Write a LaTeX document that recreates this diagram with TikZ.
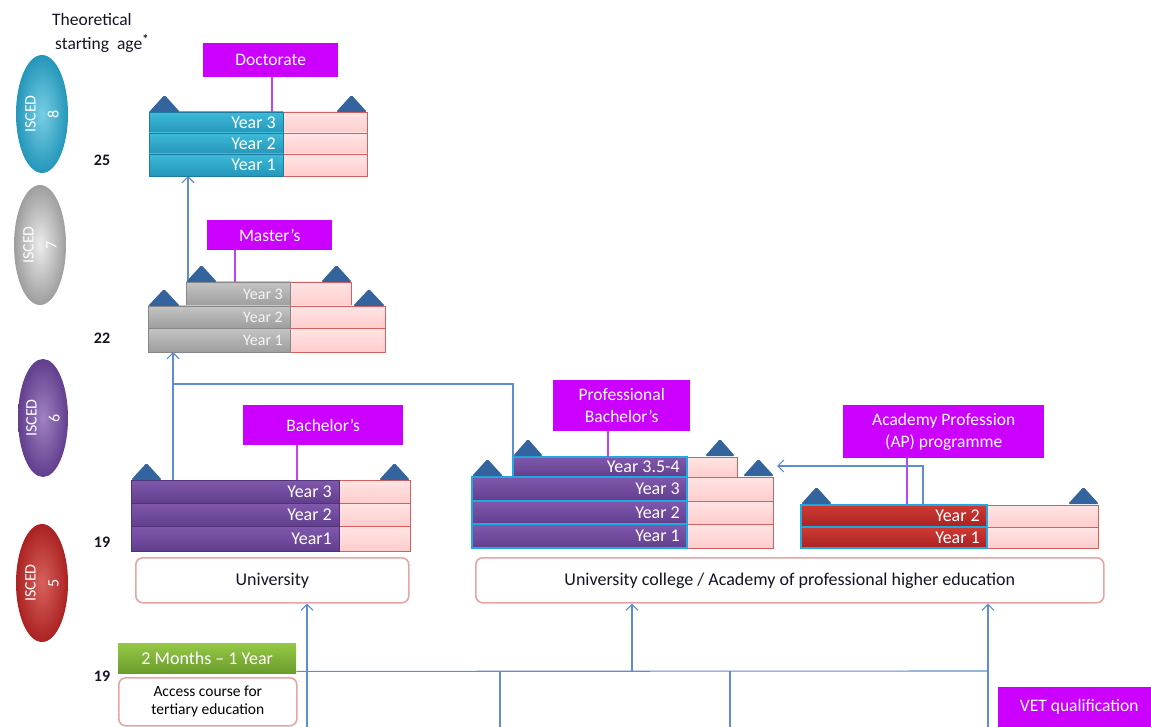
\documentclass[tikz,border=0pt]{standalone}
\usepackage{fontspec}
\setmainfont{Carlito}
\usetikzlibrary{shapes.geometric,arrows.meta,backgrounds}
\definecolor{mag}{RGB}{204,0,255}
\definecolor{magline}{RGB}{190,70,240}
\definecolor{pinkf}{RGB}{255,205,205}
\definecolor{pinkt}{RGB}{255,228,228}
\definecolor{pinkd}{RGB}{212,95,95}
\definecolor{cyant}{RGB}{62,186,216}
\definecolor{cyanb}{RGB}{36,150,186}
\definecolor{cyand}{RGB}{28,125,160}
\definecolor{grayt}{RGB}{196,196,196}
\definecolor{grayb}{RGB}{158,158,158}
\definecolor{grayd}{RGB}{135,135,135}
\definecolor{purt}{RGB}{128,88,172}
\definecolor{purb}{RGB}{98,62,142}
\definecolor{purd}{RGB}{80,50,120}
\definecolor{redt}{RGB}{206,58,52}
\definecolor{redb}{RGB}{170,34,34}
\definecolor{brd}{RGB}{30,170,225}
\definecolor{trif}{RGB}{52,100,158}
\definecolor{bl}{RGB}{95,140,205}
\definecolor{boxb}{RGB}{228,165,165}
\definecolor{grnt}{RGB}{150,200,70}
\definecolor{grnb}{RGB}{106,156,44}
\definecolor{txt}{RGB}{20,20,40}
\newcommand{\yrow}[7]{%
  \node[#2, minimum width=#5pt, minimum height=#6pt] (#1) at (#3,#4) {};
  \node[yrtext, anchor=east] (#1t) at ([xshift=-7pt]#1.east) {#7};}
\newcommand{\pk}[5]{\node[pinkbar, minimum width=#4pt, minimum height=#5pt] (#1) at (#2,#3) {};}
\newcommand{\tri}[3]{\fill[trif, rounded corners=1.5pt] (#1,#2) -- ({#1+#3/2},{#2-17}) -- ({#1+#3},#2) -- cycle;}
\begin{document}
\begin{tikzpicture}[x=1pt,y=-1pt,
  bar/.style={anchor=north west, inner sep=0pt, outer sep=0pt},
  cyanbar/.style={bar, top color=cyant, bottom color=cyanb, draw=cyand, line width=0.7pt},
  graybar/.style={bar, top color=grayt, bottom color=grayb, draw=grayd, line width=0.7pt},
  purbar/.style={bar, top color=purt, bottom color=purb, draw=purd, line width=0.7pt},
  pbbar/.style={bar, top color=purt, bottom color=purb, draw=brd, line width=1.6pt},
  apbar/.style={bar, top color=redt, bottom color=redb, draw=brd, line width=1.6pt},
  pinkbar/.style={bar, top color=pinkt, bottom color=pinkf, draw=pinkd, line width=0.9pt},
  yrtext/.style={text=white, inner sep=0pt, font=\fontsize{18}{20}\selectfont},
  lbl/.style={anchor=north west, inner sep=0pt, fill=mag, text=white, align=center, font=\fontsize{17.5}{22}\selectfont},
  lblline/.style={draw=magline, line width=2pt},
  ebox/.style={anchor=north west, inner sep=0pt, fill=white, draw=boxb, line width=1.6pt, rounded corners=7pt, text=txt, align=center, font=\fontsize{18}{20}\selectfont},
  age/.style={text=txt, inner sep=0pt, font=\bfseries\fontsize{16}{18}\selectfont},
  isced/.style={ellipse, minimum width=52pt, minimum height=118pt, inner sep=0pt},
  isctext/.style={rotate=90, text=white, align=center, inner sep=0pt, font=\fontsize{16}{23}\selectfont},
  bline/.style={draw=bl, line width=1.1pt},
  arr/.style={bline, -{Straight Barb[length=6pt,width=12pt]}}
]
\useasboundingbox (0,0) rectangle (1151,727);

% title
\node[anchor=north west, align=left, inner sep=0pt, text=txt, font=\fontsize{17.5}{24}\selectfont] (title) at (52,13) {Theoretical\\\hspace*{3pt}starting\ \ age\textsuperscript{\textbf{*}}};

% ISCED ellipses
\node[isced, shade, inner color=cyant!70!white, outer color=cyanb] (e8) at (42,114) {};
\node[isctext] (e8t) at (e8.center) {ISCED\\8};
\node[isced, shade, inner color=white!85!gray, outer color=grayb, minimum height=120pt] (e7) at (40,245) {};
\node[isctext] (e7t) at (e7.center) {ISCED\\7};
\node[isced, shade, inner color=purt!75!white, outer color=purb, minimum width=50pt] (e6) at (43,418) {};
\node[isctext] (e6t) at (e6.center) {ISCED\\6};
\node[isced, shade, inner color=redt!80!white, outer color=redb] (e5) at (42,583) {};
\node[isctext] (e5t) at (e5.center) {ISCED\\5};

% ages
\node[age] (a25) at (102,160) {25};
\node[age] (a22) at (102,338) {22};
\node[age] (a19a) at (102,542) {19};
\node[age] (a19b) at (102,676) {19};

% Doctorate
\pk{d3p}{283}{112}{84}{21}
\pk{d2p}{283}{133}{84}{21}
\pk{d1p}{283}{154}{84}{22}
\yrow{d3g}{cyanbar}{149}{112}{134}{21}{Year 3}
\yrow{d2g}{cyanbar}{149}{133}{134}{21}{Year 2}
\yrow{d1g}{cyanbar}{149}{154}{134}{22}{Year 1}
\tri{149}{112}{31}
\tri{336}{112}{31}
\node[lbl, minimum width=135pt, minimum height=34pt] (dlbl) at (203,43) {Doctorate};
\draw[lblline] ([xshift=69pt]dlbl.south west) -- ([xshift=69pt]dlbl.south west |- d3g.north);

% Master's
\pk{m3p}{290}{282}{61}{24}
\pk{m2p}{290}{306}{95}{22}
\pk{m1p}{290}{328}{95}{24}
\begin{scope}[yrtext/.append style={font=\fontsize{16}{18}\selectfont, text=white!92!gray}]
\yrow{m3g}{graybar}{186}{282}{104}{24}{Year 3}
\yrow{m2g}{graybar}{148}{306}{142}{22}{Year 2}
\yrow{m1g}{graybar}{148}{328}{142}{24}{Year 1}
\end{scope}
\tri{186}{282}{31}
\tri{321}{282}{31}
\tri{148}{306}{32}
\tri{353}{306}{32}
\node[lbl, minimum width=125pt, minimum height=30pt] (mlbl) at (207,220) {Master's};
\draw[lblline] ([xshift=28pt]mlbl.south west) -- ([xshift=28pt]mlbl.south west |- m3g.north);

% Bachelor's
\pk{b3p}{339}{480}{71}{23}
\pk{b2p}{339}{503}{71}{23}
\pk{b1p}{339}{526}{71}{25}
\yrow{b3g}{purbar}{131}{480}{208}{23}{Year 3}
\yrow{b2g}{purbar}{131}{503}{208}{23}{Year 2}
\yrow{b1g}{purbar}{131}{526}{208}{25}{Year1}
\tri{131}{480}{31}
\tri{379}{480}{31}
\node[lbl, minimum width=160pt, minimum height=40pt] (blbl) at (243,405) {Bachelor's};
\draw[lblline] ([xshift=54pt]blbl.south west) -- ([xshift=54pt]blbl.south west |- b3g.north);
\node[ebox, minimum width=273pt, minimum height=45pt] (univ) at (135,557) {University};

% Professional Bachelor's
\pk{p4p}{687}{457}{50}{20}
\pk{p3p}{687}{477}{86}{24}
\pk{p2p}{687}{501}{86}{23}
\pk{p1p}{687}{524}{86}{24}
\yrow{p4g}{pbbar}{513}{457}{174}{20}{Year 3.5-4}
\yrow{p3g}{pbbar}{472}{477}{215}{24}{Year 3}
\yrow{p2g}{pbbar}{472}{501}{215}{23}{Year 2}
\yrow{p1g}{pbbar}{472}{524}{215}{24}{Year 1}
\tri{513}{456}{30}
\tri{705}{456}{30}
\tri{472}{476}{31}
\tri{743}{476}{31}
\node[lbl, minimum width=137pt, minimum height=51pt] (pblbl) at (553,380) {Professional\\Bachelor's};
\draw[lblline] ([xshift=55pt]pblbl.south west) -- ([xshift=55pt]pblbl.south west |- p4g.north);
\node[ebox, minimum width=628pt, minimum height=45pt] (ucol) at (475,557) {University college / Academy of professional higher education};

% AP programme
\pk{a2p}{970}{505}{128}{22}
\pk{a1p}{970}{527}{128}{21}
\yrow{a2g}{apbar}{801}{505}{186}{22}{Year 2}
\yrow{a1g}{apbar}{801}{527}{186}{21}{Year 1}
\tri{801}{504}{31}
\tri{1068}{504}{31}
\node[lbl, minimum width=201pt, minimum height=53pt] (aplbl) at (843,405) {Academy Profession\\(AP) programme};

% bottom
\node[anchor=north west, inner sep=0pt, minimum width=178pt, minimum height=30pt, top color=grnt, bottom color=grnb, text=white, font=\fontsize{18}{20}\selectfont] (grn) at (118,643) {2 Months -- 1 Year};
\node[ebox, minimum width=178pt, minimum height=48pt, font=\fontsize{15.5}{18}\selectfont, text=black] (acc) at (118,677) {Access course for\\tertiary education};
\node[lbl, minimum width=162pt, minimum height=40pt] (vet) at (998,687) {VET qualification};

% connectors
\begin{scope}[on background layer]
\draw[arr] ([xshift=2pt]m3g.north west) -- ([xshift=2pt]m3g.north west |- d1g.south);
\draw[arr] ([xshift=42pt]b3g.north west) -- ([xshift=42pt]b3g.north west |- m1g.south);
\coordinate (jn) at (173,384);
\draw[bline] (p4g.north west) |- (jn);
\coordinate (apt) at (777,466);
\draw[lblline] ([xshift=64pt]aplbl.south west) -- ([xshift=64pt]aplbl.south west |- a2g.north);
\draw[arr] ([xshift=122pt]a2g.north west) |- (apt);
\coordinate (b1) at (307,727);
\coordinate (b2) at (500,727);
\coordinate (b3) at (730,727);
\coordinate (b4) at (988,727);
\coordinate (hr) at (988,671);
\coordinate (u1) at (632,671);
\draw[arr] (b1) -- (b1 |- univ.south);
\draw[bline] ([yshift=2pt]grn.south east) -- (hr);
\draw[bline] (b2) -- (b2 |- hr);
\draw[bline] (b3) -- (b3 |- hr);
\draw[arr] (u1) -- (u1 |- ucol.south);
\draw[arr] (b4) -- (b4 |- ucol.south);
\end{scope}
\end{tikzpicture}
\end{document}
